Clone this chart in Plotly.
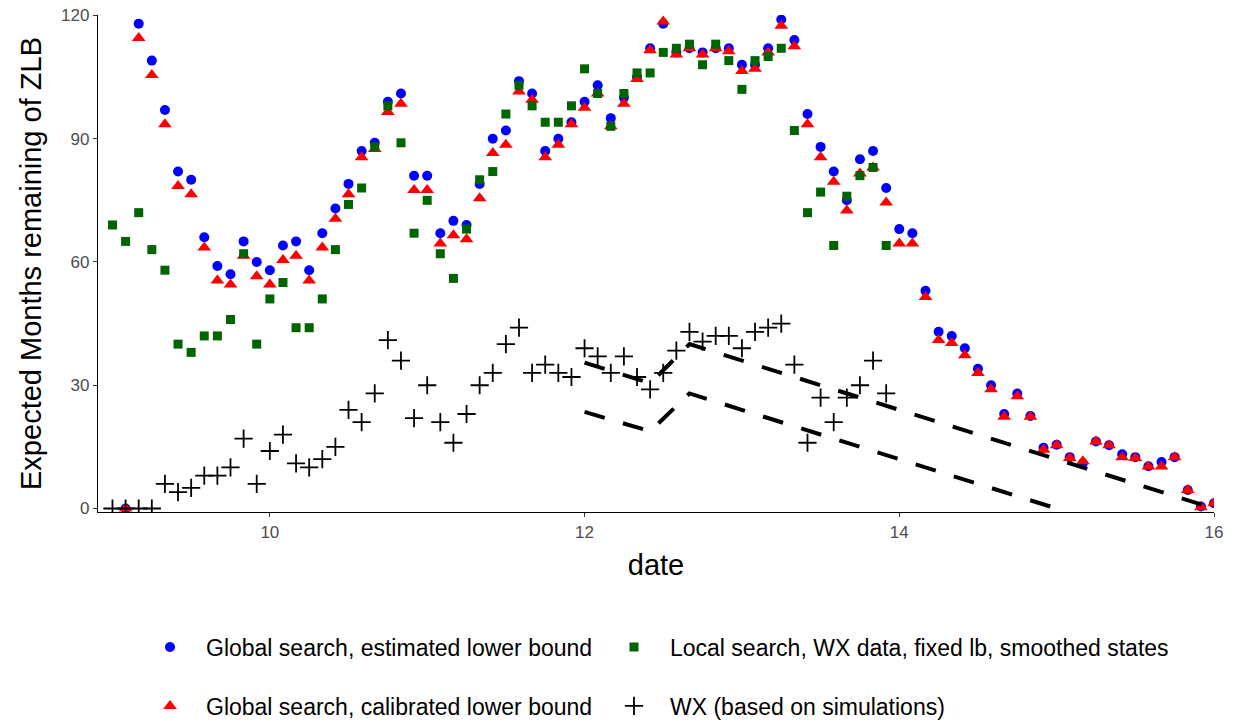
import numpy as np
import plotly.graph_objects as go

# Monthly observation dates (years, 9 = 2009)
dates_global = 9 + np.arange(1, 85) / 12      # 2009m2 .. 2016m1
dates_local = 9 + np.arange(0, 60) / 12       # 2009m1 .. 2013m12
dates_wx = 9 + np.arange(0, 60) / 12

global_est = [
    0, 118, 109, 97, 82, 80, 66, 59, 57, 65, 60, 58,
    64, 65, 58, 67, 73, 79, 87, 89, 99, 101, 81, 81,
    67, 70, 69, 79, 90, 92, 104, 101, 87, 90, 94, 99,
    103, 95, 100, 105, 112, 118, 111, 112, 111, 112, 112, 108,
    108, 112, 119, 114, 96, 88, 82, 75, 85, 87, 78, 68,
    67, 53, 43, 42, 39, 34, 30, 23, 28, 22.5, 14.8, 15.5,
    12.5, 11, 16.3, 15.4, 13.2, 12.5, 10.3, 11.3, 12.5, 4.5, 0.5, 1.3,
]

global_cal = [
    0, 114.5, 105.5, 93.5, 78.5, 76.5, 63.5, 55.5, 54.5, 61.5, 56.5, 54.5,
    60.5, 61.5, 55.5, 63.5, 70.5, 76.5, 85.5, 87.5, 96.5, 98.5, 77.5, 77.5,
    64.5, 66.5, 65.5, 75.5, 86.5, 88.5, 101.5, 99.5, 85.5, 88.5, 93.5, 97.5,
    101, 93, 98.5, 104.5, 111.5, 118.5, 110.5, 112, 110.5, 112, 111.3, 106.5,
    107, 111, 117.5, 112.5, 93.5, 85.5, 79.5, 72.5, 81.5, 83, 74.5, 64.5,
    64.5, 51.5, 41, 40.3, 37.3, 33, 29, 22.3, 27.3, 22.3, 14.3, 15.4,
    12.3, 11.5, 16.3, 15.4, 12.5, 12.3, 10.2, 10.2, 12.5, 4.5, 0.3, 1.3,
]

local_wx = [
    69, 65, 72, 63, 58, 40, 38, 42, 42, 46, 62, 40,
    51, 55, 44, 44, 51, 63, 74, 78, 88, 98, 89, 67,
    75, 62, 56, 68, 80, 82, 96, 103, 98, 94, 94, 98,
    107, 101, 93, 101, 106, 106, 111, 112, 113, 108, 113, 109,
    102, 109, 110, 112, 92, 72, 77, 64, 76, 81, 83, 64,
]

wx_sim = [
    0, 0, 0, 0, 6, 4, 5, 8, 8, 10, 17, 6,
    14, 18, 11, 10, 12, 15, 24, 21, 28, 41, 36, 22,
    30, 21, 16, 23, 30, 33, 40, 44, 33, 35, 33, 32,
    39, 37, 33, 37, 32, 29, 33, 38.4, 43, 40.6, 42, 42,
    39, 43, 44, 45, 35, 16, 27, 21, 27, 30, 36, 28,
]

# Kinked reference paths (start, trough, peak, end)
path_upper_x = [12.0, 12.417, 12.667, 16.0]
path_upper_y = [35.5, 30.5, 40.0, 0.0]
path_lower_x = [12.0, 12.417, 12.667, 15.0]
path_lower_y = [23.5, 18.8, 28.0, 0.0]

FONT = "Liberation Sans, Arial, sans-serif"

fig = go.Figure()

# Draw order: circles, triangles, squares, crosses, then the dashed paths
fig.add_trace(go.Scatter(
    x=dates_global, y=global_est, mode="markers",
    name="Global search, estimated lower bound",
    marker=dict(symbol="circle", size=10, color="#0000FF"),
    legend="legend",
))
fig.add_trace(go.Scatter(
    x=dates_global, y=global_cal, mode="markers",
    name="Global search, calibrated lower bound",
    marker=dict(symbol="triangle-up", size=12, color="#FF0000"),
    legend="legend3",
))
fig.add_trace(go.Scatter(
    x=dates_local, y=local_wx, mode="markers",
    name="Local search, WX data, fixed lb, smoothed states",
    marker=dict(symbol="square", size=9, color="#006400"),
    legend="legend2",
))
fig.add_trace(go.Scatter(
    x=dates_wx, y=wx_sim, mode="markers",
    name="WX (based on simulations)",
    marker=dict(symbol="cross-thin", size=13, color="black",
                line=dict(color="black", width=1.8)),
    legend="legend4",
))
for px_, py_ in [(path_upper_x, path_upper_y), (path_lower_x, path_lower_y)]:
    fig.add_trace(go.Scatter(
        x=px_, y=py_, mode="lines", showlegend=False, hoverinfo="skip",
        line=dict(color="black", width=4, dash="21px,19px"),
    ))

axis_common = dict(
    showline=True, linecolor="black", linewidth=1.3,
    ticks="outside", ticklen=4, tickwidth=1.1, tickcolor="#333333",
    tickfont=dict(family=FONT, size=17, color="#4D4D4D"),
    showgrid=False, zeroline=False, automargin=False,
)

legend_common = dict(
    orientation="h", xref="container", yref="container",
    xanchor="left", yanchor="middle", itemwidth=62,
    font=dict(family=FONT, size=23, color="black"),
    bgcolor="rgba(0,0,0,0)", borderwidth=0,
)

col1, col2 = 134 / 1248, 598 / 1248
row1, row2 = 1 - 647 / 723, 1 - 706 / 723

fig.update_layout(
    width=1248, height=723,
    margin=dict(l=98, r=34, t=15, b=211),
    paper_bgcolor="white", plot_bgcolor="white",
    font=dict(family=FONT),
    xaxis=dict(
        range=[8.908, 16.0], tickvals=[10, 12, 14, 16],
        title=dict(text="date", font=dict(family=FONT, size=29, color="black"), standoff=14),
        **axis_common,
    ),
    yaxis=dict(
        range=[-0.85, 120.1], tickvals=[0, 30, 60, 90, 120],
        title=dict(text="Expected Months remaining of ZLB",
                   font=dict(family=FONT, size=29, color="black"), standoff=10),
        **axis_common,
    ),
    legend=dict(x=col1, y=row1, **legend_common),
    legend2=dict(x=col2, y=row1, **legend_common),
    legend3=dict(x=col1, y=row2, **legend_common),
    legend4=dict(x=col2, y=row2, **legend_common),
)

fig.write_html("out.html")
